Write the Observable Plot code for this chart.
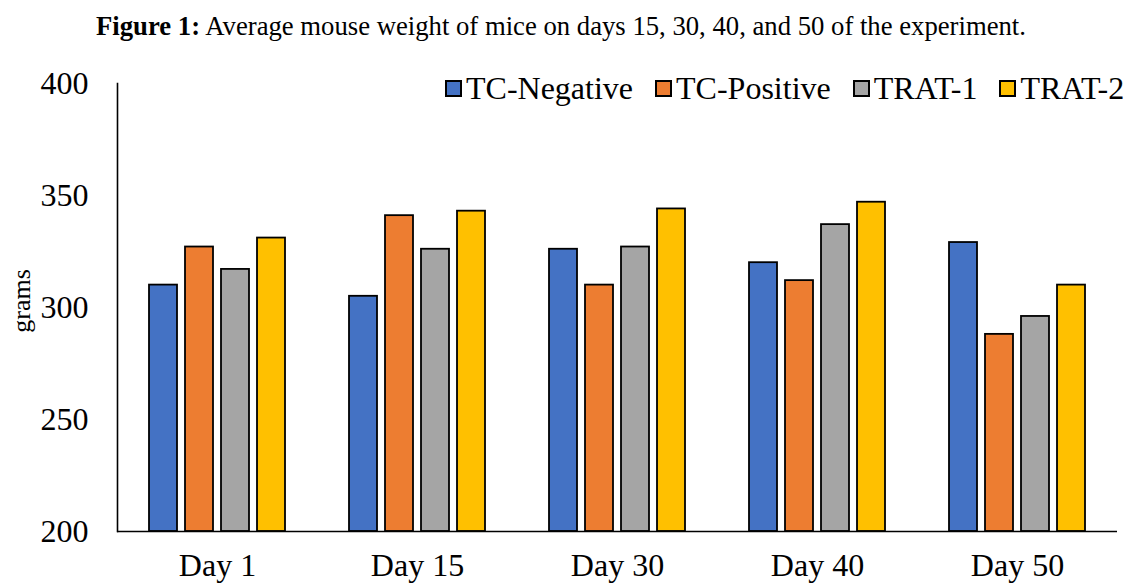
<!DOCTYPE html>
<html>
<head>
<meta charset="utf-8">
<script src="https://cdn.jsdelivr.net/npm/d3@7"></script>
<script src="https://cdn.jsdelivr.net/npm/@observablehq/plot@0.6"></script>
<style>
  body { margin: 0; background: #fff; font-family: "Liberation Serif", "DejaVu Serif", serif; }
  #wrap { position: relative; width: 1129px; height: 583px; overflow: hidden; }
  #title { position: absolute; top: 11px; left: 0; width: 1129px; line-height: 30px; text-align: center; font-size: 26.7px; color: #000; box-sizing: border-box; padding-right: 7px; white-space: nowrap; }
  #chart { position: absolute; top: 50px; left: 0; }
  #legend { position: absolute; top: 70px; left: 445px; display: flex; align-items: center; font-size: 32px; line-height: 36px; color: #000; white-space: nowrap; }
  #legend .item { display: flex; align-items: center; margin-right: 22px; }
  #legend .sw { width: 17px; height: 17px; box-sizing: border-box; border: 2px solid #000; margin-right: 4px; }
  #ylabel { position: absolute; left: 22px; top: 301px; transform: translate(-50%, -50%) rotate(-90deg); font-size: 26px; color: #000; white-space: nowrap; }
</style>
</head>
<body>
<div id="wrap">
  <div id="title"><b>Figure 1:</b> Average mouse weight of mice on days 15, 30, 40, and 50 of the experiment.</div>
  <div id="chart"></div>
  <div id="legend"></div>
  <div id="ylabel">grams</div>
</div>
<script>
const days = ["Day 1", "Day 15", "Day 30", "Day 40", "Day 50"];
const series = ["TC-Negative", "TC-Positive", "TRAT-1", "TRAT-2"];
const tcNegative = [310, 305, 326, 320, 329];
const tcPositive = [327, 341, 310, 312, 288];
const trat1 = [317, 326, 327, 337, 296];
const trat2 = [331, 343, 344, 347, 310];
const yTicks = [200, 250, 300, 350, 400];
const colors = ["#4472C4", "#ED7D31", "#A5A5A5", "#FFC000"];

const valuesBySeries = [tcNegative, tcPositive, trat1, trat2];
const data = [];
days.forEach((d, i) => {
  series.forEach((s, j) => data.push({day: d, series: s, value: valuesBySeries[j][i]}));
});
const base = yTicks[0];

const chart = Plot.plot({
  width: 1129,
  height: 533,
  marginTop: 33,
  marginBottom: 52,
  marginLeft: 115,
  marginRight: 10,
  style: {fontFamily: "Liberation Serif, serif", fontSize: "32px", color: "#000", background: "#fff"},
  fx: {domain: days, padding: 0, label: null},
  x: {domain: series, paddingInner: 0.23, paddingOuter: 0.87, axis: null},
  y: {domain: [yTicks[0], yTicks[yTicks.length - 1]], label: null, axis: null},
  color: {domain: series, range: colors},
  marks: [
    Plot.barY(data, {fx: "day", x: "series", y1: () => base, y2: "value", fill: "series", stroke: "#000", strokeWidth: 1.8}),
    Plot.ruleY([base], {stroke: "#000", strokeWidth: 1.6}),
    Plot.axisY({ticks: yTicks, tickSize: 0, tickPadding: 29, label: null, fontSize: 32}),
    Plot.axisFx({anchor: "bottom", tickSize: 0, tickPadding: 22, label: null, fontSize: 32}),
    Plot.frame({anchor: "left", facet: "super", stroke: "#000", strokeWidth: 1.6})
  ]
});
document.getElementById("chart").appendChild(chart);

const legend = document.getElementById("legend");
series.forEach((s, j) => {
  const item = document.createElement("div");
  item.className = "item";
  const sw = document.createElement("div");
  sw.className = "sw";
  sw.style.background = colors[j];
  const t = document.createElement("span");
  t.textContent = s;
  item.appendChild(sw);
  item.appendChild(t);
  legend.appendChild(item);
});
</script>
</body>
</html>
